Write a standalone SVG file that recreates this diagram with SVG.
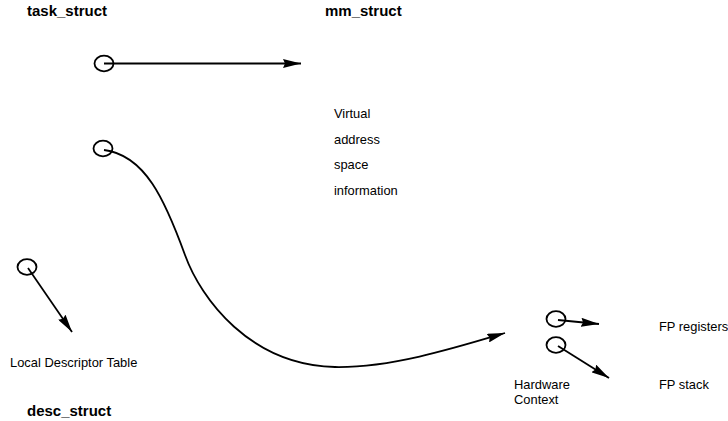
<svg xmlns="http://www.w3.org/2000/svg" width="728" height="421" viewBox="0 0 728 421">
  <style>
    text { font-family: "Liberation Sans", Arial, sans-serif; fill: #000; }
    .title { font-size: 15px; font-weight: bold; }
    .lbl { font-size: 12.9px; }
    .ptr { fill: none; stroke: #000; stroke-width: 1.8; }
    .edge { fill: none; stroke: #000; stroke-width: 1.8; }
  </style>
  <defs>
    <marker id="arrow" viewBox="0 0 18 9" refX="18" refY="4.5" markerWidth="18" markerHeight="9" markerUnits="userSpaceOnUse" orient="auto">
      <path d="M0,0 L18,4.5 L0,9 L2,4.5 Z" fill="#000"/>
    </marker>
  </defs>

  <rect width="728" height="421" fill="#fff"/>

  <!-- process descriptor -->
  <g id="task_struct">
    <text class="title" x="27" y="16">task_struct</text>
    <ellipse class="ptr" cx="104" cy="63.5" rx="9.5" ry="7.8"/>
    <ellipse class="ptr" cx="103" cy="148.5" rx="9.5" ry="7.8"/>
  </g>

  <!-- memory map -->
  <g id="mm_struct">
    <text class="title" x="325" y="16">mm_struct</text>
    <text class="lbl" x="334" y="118">Virtual</text>
    <text class="lbl" x="334" y="144">address</text>
    <text class="lbl" x="334" y="169">space</text>
    <text class="lbl" x="334" y="195">information</text>
  </g>

  <!-- LDT descriptor -->
  <g id="desc_struct">
    <ellipse class="ptr" cx="27" cy="267" rx="9.5" ry="7.8"/>
    <text class="lbl" x="10" y="367">Local Descriptor Table</text>
    <text class="title" x="27" y="416">desc_struct</text>
  </g>

  <!-- saved CPU state -->
  <g id="hardware_context">
    <ellipse class="ptr" cx="556" cy="319" rx="9.5" ry="7.8"/>
    <ellipse class="ptr" cx="556" cy="345" rx="9.5" ry="7.8"/>
    <text class="lbl" x="514" y="389">Hardware</text>
    <text class="lbl" x="514" y="404">Context</text>
  </g>

  <g id="fp_registers">
    <text class="lbl" x="659" y="331">FP registers</text>
  </g>

  <g id="fp_stack">
    <text class="lbl" x="659" y="389">FP stack</text>
  </g>

  <g id="connectors">
    <path class="edge" d="M104,63.5 L301,63.5" marker-end="url(#arrow)"/>
    <path class="edge" d="M104,150 C145,155 165,200 185,255 C201,299 250,365 335,367 C390,368 455,348 505,333" marker-end="url(#arrow)"/>
    <path class="edge" d="M28,268 L72,332" marker-end="url(#arrow)"/>
    <path class="edge" d="M558,320 L599,324" marker-end="url(#arrow)"/>
    <path class="edge" d="M558,346 L609,378" marker-end="url(#arrow)"/>
  </g>
</svg>
